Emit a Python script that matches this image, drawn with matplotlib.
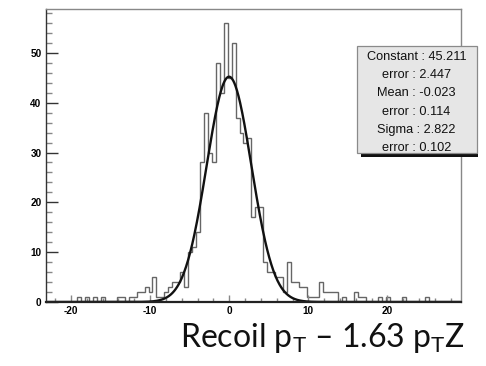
import numpy as np
import matplotlib
matplotlib.use("Agg")
import matplotlib.pyplot as plt
from matplotlib.patches import Rectangle
from matplotlib.ticker import MultipleLocator

plt.rcParams['axes.unicode_minus'] = False
plt.rcParams['mathtext.fontset'] = 'custom'
plt.rcParams['mathtext.rm'] = 'Lato'
plt.rcParams['mathtext.it'] = 'Lato'

# Histogram binning: 105 bins of width 0.5 starting at -23.2
bin_start = -23.2
bin_width = 0.5
counts = [
    0, 0, 0, 0, 0, 0, 0, 0, 1, 0,
    1, 0, 1, 0, 1, 0, 0, 0, 1, 1,
    0, 1, 1, 2, 2, 3, 2, 5, 1, 1,
    2, 3, 4, 4, 6, 3, 10, 11, 14, 28,
    38, 30, 28, 48, 42, 56, 45, 52, 37, 34,
    32, 33, 17, 19, 19, 8, 6, 6, 5, 5,
    2, 8, 4, 4, 3, 3, 1, 1, 1, 4,
    2, 2, 2, 2, 0, 1, 0, 0, 2, 1,
    1, 0, 0, 0, 1, 0, 1, 0, 0, 0,
    1, 0, 0, 0, 0, 0, 1, 0, 0, 0,
    0, 0, 0, 0, 0,
]

# Gaussian fit parameters
fit_constant = 45.211
fit_constant_err = 2.447
fit_mean = -0.023
fit_mean_err = 0.114
fit_sigma = 2.822
fit_sigma_err = 0.102

x_ticks = [-20, -10, 0, 10, 20]
y_ticks = [0, 10, 20, 30, 40, 50]

edges = bin_start + bin_width * np.arange(len(counts) + 1)

fig = plt.figure(figsize=(4.86, 3.66), dpi=100)
ax = fig.add_axes([0.094, 0.1749, 0.8546, 0.8005])

ax.stairs(counts, edges, color='#666666', lw=1.0, baseline=0)

xf = np.linspace(edges[0], edges[-1], 800)
yf = fit_constant * np.exp(-0.5 * ((xf - fit_mean) / fit_sigma) ** 2)
ax.plot(xf, yf, color='#111111', lw=1.7)

ax.set_xlim(edges[0], edges[-1])
ax.set_ylim(0, 58.8)

ax.set_xticks(x_ticks)
ax.set_yticks(y_ticks)
ax.xaxis.set_minor_locator(MultipleLocator(2))
ax.yaxis.set_minor_locator(MultipleLocator(2))

lab_font = dict(family='Liberation Sans', weight='bold', size=7.2)
ax.set_xticklabels([str(t) for t in x_ticks], fontdict=lab_font)
ax.set_yticklabels([str(t) for t in y_ticks], fontdict=lab_font)

ax.tick_params(axis='y', which='major', direction='in', length=8.6, width=1.0,
               color='#333333', pad=3)
ax.tick_params(axis='y', which='minor', direction='in', length=4.3, width=1.0,
               color='#888888')
ax.tick_params(axis='x', which='major', direction='in', length=5, width=1.0,
               color='#888888', pad=3)
ax.tick_params(axis='x', which='minor', direction='in', length=2.9, width=1.0,
               color='#888888')

for side in ['top', 'right']:
    ax.spines[side].set_color('#888888')
    ax.spines[side].set_linewidth(1.0)
ax.spines['left'].set_color('#333333')
ax.spines['left'].set_linewidth(1.0)
ax.spines['bottom'].set_color('#222222')
ax.spines['bottom'].set_linewidth(1.6)

# Fit statistics box
W, H = 486.0, 366.0
bx0, bx1, by0, by1 = 356.5, 476.5, 46.0, 153.0
shadow = Rectangle((361 / W, 1 - 156.5 / H), (477.5 - 361) / W, 3.5 / H,
                   transform=fig.transFigure, facecolor='#111111',
                   edgecolor='none', zorder=5)
fig.add_artist(shadow)
box = Rectangle((bx0 / W, 1 - by1 / H), (bx1 - bx0) / W, (by1 - by0) / H,
                transform=fig.transFigure, facecolor='#e6e6e6',
                edgecolor='#8a8a8a', lw=0.9, zorder=6)
fig.add_artist(box)

stat_lines = [
    f"Constant : {fit_constant:.3f}",
    f"error : {fit_constant_err:.3f}",
    f"Mean : {fit_mean:.3f}",
    f"error : {fit_mean_err:.3f}",
    f"Sigma : {fit_sigma:.3f}",
    f"error : {fit_sigma_err:.3f}",
]
line_y = [56.7, 75.0, 93.3, 111.7, 130.0, 148.3]
for txt, yp in zip(stat_lines, line_y):
    fig.text((bx0 + bx1) / 2 / W, 1 - yp / H, txt, ha='center', va='center',
             family='Liberation Sans', size=9.2, color='#111111', zorder=7)

fig.text(465 / W, 1 - 347 / H,
         r"Recoil p$_{\mathrm{T}}$ – 1.63 p$_{\mathrm{T}}$Z",
         ha='right', va='baseline', family='Lato', size=23, color='#111111')

fig.savefig('out.png', dpi=100)
